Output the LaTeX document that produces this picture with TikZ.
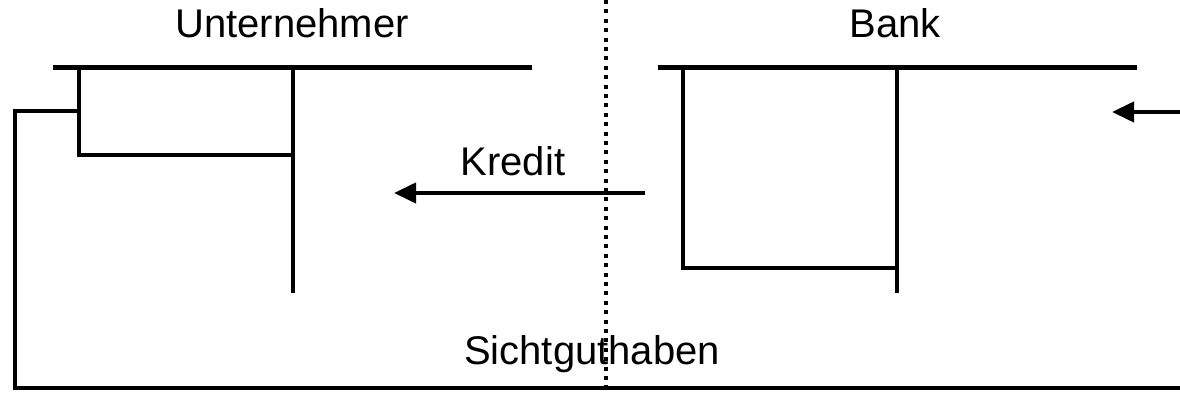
\documentclass[tikz,border=0pt]{standalone}
\usepackage{fontspec}
\setmainfont{Liberation Sans}
\usetikzlibrary{arrows.meta}
\tikzset{
  konto/.style={line width=2pt},
  kopf/.style={line width=2.3pt},
  fluss/.style={line width=2pt,-{Triangle[length=11pt,width=10pt]}},
  grenze/.style={line width=2pt,dash pattern=on 2pt off 2.7pt},
  titel/.style={anchor=base,inner sep=0pt,font=\fontsize{20pt}{24pt}\selectfont}
}
\begin{document}
\begin{tikzpicture}[x=0.5pt,y=-0.5pt]
\useasboundingbox (0,0) rectangle (1180,394);
% Unternehmer
\draw[kopf] (53,67.5) -- (532,67.5);
\draw[konto] (292.5,67.5) -- (292.5,293);
\draw[konto] (79,67.5) rectangle (292.5,155.5);
\draw[konto] (79,111.5) -- (15,111.5) -- (15,388) -- (1180,388);
% Bank
\draw[kopf] (658,67.5) -- (1137,67.5);
\draw[konto] (897,67.5) -- (897,293);
\draw[konto] (683,67.5) rectangle (897,268);
% Texte
\node[titel] (unternehmer) at (292,38) {Unternehmer};
\node[titel] (bank) at (895,38) {Bank};
\node[titel] (kredit) at (513,176) {Kredit};
\node[titel] (sicht) at (592,365) {Sichtguthaben};
% Pfeile
\coordinate (kredit-a) at (645,193);
\coordinate (kredit-b) at (394,193);
\draw[fluss] (kredit-a) -- (kredit-b);
\coordinate (rand-a) at (1180,112);
\coordinate (rand-b) at (1112,112);
\draw[fluss] (rand-a) -- (rand-b);
% Grenze
\draw[grenze] (606,0) -- (606,394);
\end{tikzpicture}
\end{document}
